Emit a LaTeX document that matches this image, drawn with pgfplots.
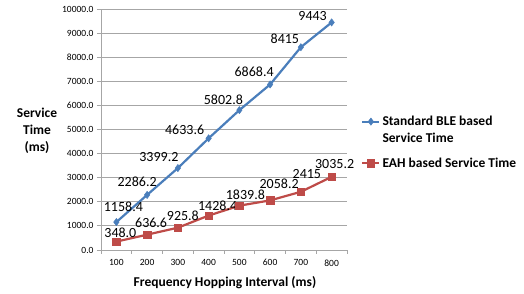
\documentclass[border=0pt]{standalone}
\usepackage{pgfplots}
\pgfplotsset{compat=1.18}
\usepackage{pgfplotstable}
\usepackage{fontspec}
\setmainfont{Carlito}
\definecolor{bleblue}{HTML}{4A7EBB}
\definecolor{eahred}{HTML}{BE4B48}
\definecolor{gridgray}{HTML}{A6A6A6}

\pgfplotstableread{
x y lab dx dy
1 1158.4 1158.4 7 15
2 2286.2 2286.2 -10 13
3 3399.2 3399.2 -19 11
4 4633.6 4633.6 -24 8
5 5802.8 5802.8 -16 10
6 6868.4 6868.4 -16 13
7 8415 8415 -16 8
8 9443 9443 -19 6
}\bletable

\pgfplotstableread{
x y lab dx dy
1 348.0 348.0 4 9
2 636.6 636.6 4 12
3 925.8 925.8 5 12
4 1428.4 1428.4 9 10
5 1839.8 1839.8 6 11
6 2058.2 2058.2 9 17
7 2415 2415 6 18
8 3035.2 3035.2 3 13
}\eahtable

\begin{document}
\begin{tikzpicture}
\useasboundingbox (0,0) rectangle (524pt,294pt);
\begin{axis}[
  at={(101pt,44pt)}, anchor=south west,
  width=246pt, height=241pt, scale only axis,
  xmin=0.5, xmax=8.5, ymin=0, ymax=10000,
  axis x line*=bottom, axis y line*=left,
  axis line style={draw=gridgray, line width=0.8pt},
  xtick={1,...,8}, xticklabels={100,200,300,400,500,600,700,800},
  major x tick style={draw=none},
  minor xtick={0.5,1.5,...,8.5},
  minor x tick style={draw=gridgray, line width=0.8pt},
  minor tick length=4pt,
  ytick={0,1000,...,10000},
  scaled y ticks=false,
  major tick length=4pt,
  y tick style={draw=gridgray, line width=0.8pt},
  tick align=outside,
  ymajorgrids=true,
  major grid style={draw=gridgray, line width=0.8pt},
  tick label style={font=\fontsize{9.5}{11}\selectfont, text=black},
  /pgf/number format/assume math mode=true,
  y tick label style={/pgf/number format/fixed, /pgf/number format/fixed zerofill, /pgf/number format/precision=1, /pgf/number format/1000 sep={}},
  xticklabel style={yshift=-2pt},
  xlabel={Frequency Hopping Interval (ms)},
  xlabel style={font=\fontsize{13.5}{16}\selectfont\bfseries, at={(axis description cs:0.504,-0.137)}, anchor=center},
  ylabel={Service\\Time\\(ms)},
  ylabel style={font=\fontsize{13.5}{17}\selectfont\bfseries, rotate=-90, align=center, at={(axis description cs:-0.26,0.494)}, anchor=center},
  legend style={draw=none, fill=none, at={(axis description cs:1.045,0.575)}, anchor=north west,
     font=\fontsize{13.5}{17}\selectfont\bfseries, cells={align=left}, row sep=10pt},
  legend cell align=left,
  nodes near coords,
  point meta=explicit symbolic,
  every node near coord/.append style={font=\fontsize{14}{16}\selectfont, text=black, anchor=center, xshift=\dx pt, yshift=\dy pt},
  clip=false,
]
\addplot[color=bleblue, line width=2.2pt, mark=diamond*, mark size=3.6pt, mark options={fill=bleblue, draw=bleblue, line width=0.5pt},
  visualization depends on={\thisrow{dx} \as \dx},
  visualization depends on={\thisrow{dy} \as \dy},
  legend image post style={yshift=8pt}]
  table[x=x, y=y, meta=lab] {\bletable};
\addlegendentry{Standard BLE based\\Service Time}
\addplot[color=eahred, line width=2.2pt, mark=square*, mark size=3.8pt, mark options={fill=eahred, draw=eahred, line width=0.5pt},
  visualization depends on={\thisrow{dx} \as \dx},
  visualization depends on={\thisrow{dy} \as \dy}]
  table[x=x, y=y, meta=lab] {\eahtable};
\addlegendentry{EAH based Service Time}
\end{axis}
\end{tikzpicture}
\end{document}
